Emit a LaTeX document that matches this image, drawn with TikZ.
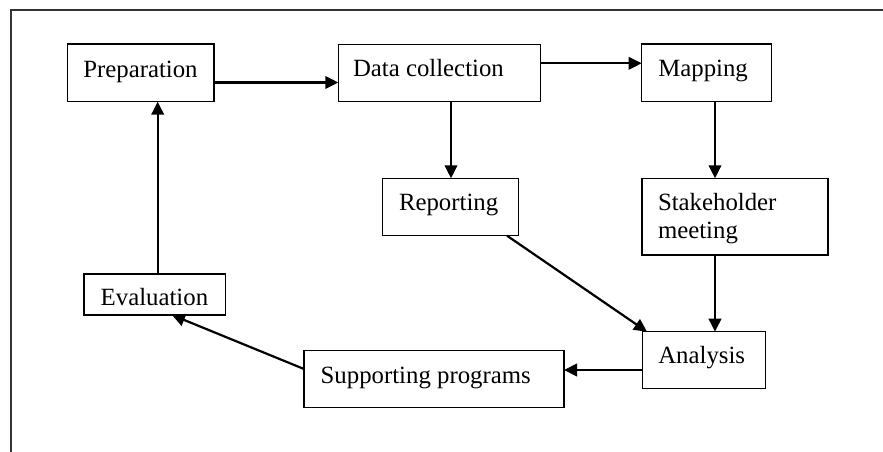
\documentclass[tikz,border=0pt]{standalone}
\usepackage{fontspec}
\setmainfont{Liberation Serif}
\usetikzlibrary{arrows.meta}
\begin{document}
\begin{tikzpicture}[x=1pt,y=-1pt,
  box/.style={draw=black,line width=1.4pt,rectangle,inner sep=0pt,outer sep=0pt},
  txt/.style={inner sep=0pt,outer sep=0pt,font=\fontsize{24.8}{28.3}\selectfont},
  arr/.style={line width=2.2pt,-{Triangle[length=13pt,width=12.5pt]}},
  frame/.style={line width=2.6pt,draw=black!80}]
\useasboundingbox (0,0) rectangle (883,452);
\draw[frame] (11,460) -- (11,10) -- (890,10);
% boxes
\node[box,minimum width=146.3pt,minimum height=57.7pt] (prep) at (140.85,72.85) {};
\node[box,minimum width=202.4pt,minimum height=57pt] (dc) at (439.5,72.8) {};
\node[box,minimum width=130pt,minimum height=57.7pt] (map) at (706.7,72.85) {};
\node[box,minimum width=135.6pt,minimum height=57.4pt] (rep) at (450.5,207) {};
\node[box,minimum width=186pt,minimum height=76.7pt] (stk) at (735,216.65) {};
\node[box,minimum width=123.4pt,minimum height=57pt] (ana) at (704,360.2) {};
\node[box,minimum width=260pt,minimum height=57pt] (sup) at (434,379.2) {};
\node[box,minimum width=141.3pt,minimum height=41pt] (eva) at (154.65,294.5) {};
% texts
\node[txt,anchor=base west] (prept) at (83.3,77.3) {Preparation};
\node[txt,anchor=base west] (dct) at (353,76.7) {Data collection};
\node[txt,anchor=base west] (mapt) at (658.3,76.5) {Mapping};
\node[txt,anchor=base west] (rept) at (399,210.7) {Reporting};
\node[txt,anchor=base west] (stkt1) at (658,210) {Stakeholder};
\node[txt,anchor=base west] (stkt2) at (658,238.5) {meeting};
\node[txt,anchor=base west] (anat) at (658.3,363.3) {Analysis};
\node[txt,anchor=base west] (supt) at (320.7,383.3) {Supporting programs};
\node[txt,anchor=base west] (evat) at (100.7,305.5) {Evaluation};
% connectors
\draw[arr] (prep.east |- 0,82.5) -- (dc.west |- 0,82.5);
\draw[arr] (dc.east |- 0,63.3) -- (map.west |- 0,63.3);
\draw[arr] (dc.south -| 451,0) -- (rep.north -| 451,0);
\draw[arr] (map.south -| 715,0) -- (stk.north -| 715,0);
\draw[arr] (stk.south -| 715,0) -- (ana.north -| 715,0);
\draw[arr] (rep.south -| 507,0) -- (ana.north -| 647,0);
\draw[arr] (ana.west |- 0,370) -- (sup.east |- 0,370);
\draw[arr] (sup.west |- 0,369) -- (eva.south -| 172,0);
\draw[arr] (eva.north -| 157.7,0) -- (prep.south -| 157.7,0);
\end{tikzpicture}
\end{document}
